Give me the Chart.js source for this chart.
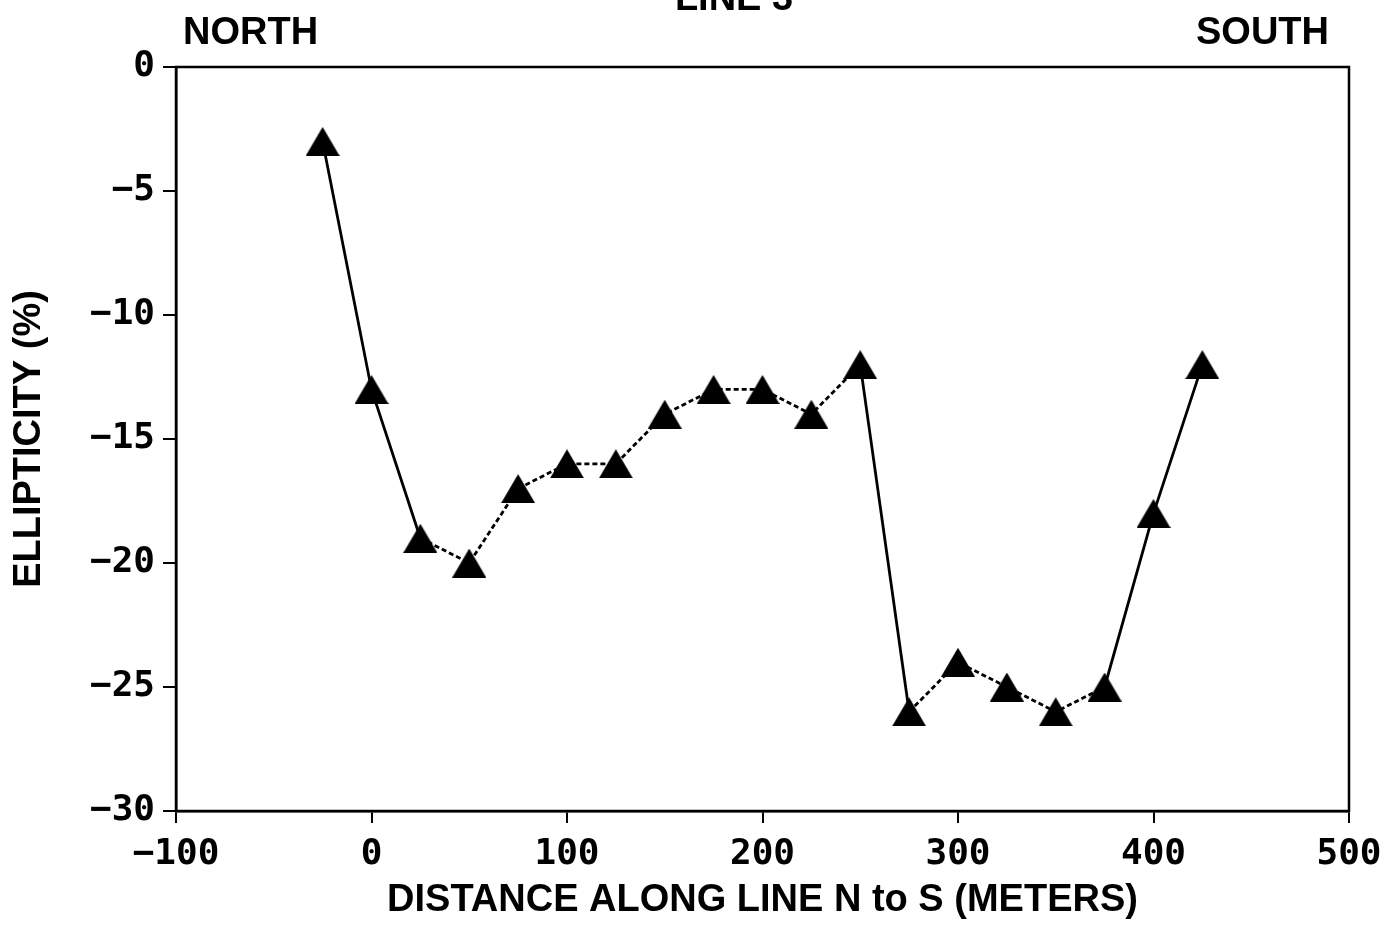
<!DOCTYPE html>
<html>
<head>
<meta charset="utf-8">
<title>Line 3 - Ellipticity</title>
<script src="https://cdn.jsdelivr.net/npm/chart.js@4/dist/chart.umd.min.js"></script>
<style>
  body { margin: 0; background: #fff; }
  #wrap { width: 1393px; height: 928px; position: relative; }
</style>
</head>
<body>
<div id="wrap"><canvas id="ellipticity-chart"></canvas></div>
<script>
// Data
const distances = [-25, 0, 25, 50, 75, 100, 125, 150, 175, 200, 225, 250, 275, 300, 325, 350, 375, 400, 425];
const ellipticity = [-3, -13, -19, -20, -17, -16, -16, -14, -13, -13, -14, -12, -26, -24, -25, -26, -25, -18, -12];

// Axis ranges
const xTicks = [-100, 0, 100, 200, 300, 400, 500];
const yTicks = [-30, -25, -20, -15, -10, -5, 0];

// Labels
const chartTitle = 'LINE 3';
const leftLabel = 'NORTH';
const rightLabel = 'SOUTH';
const xTitle = 'DISTANCE ALONG LINE N to S (METERS)';
const yTitle = 'ELLIPTICITY (%)';

document.addEventListener('DOMContentLoaded', () => {
  const labelFont = 'bold 38px "Liberation Sans", Arial, sans-serif';
  const tickFont = { family: '"DejaVu Sans Mono", monospace', size: 36, weight: 'bold' };

  // minus sign like the original typeset
  const fmt = v => String(v).replace('-', '\u2212');

  // Filled triangle marker, centred on its bounding box like the original
  const marker = document.createElement('canvas');
  marker.width = 34;
  marker.height = 29;
  const mctx = marker.getContext('2d');
  mctx.fillStyle = '#000';
  mctx.beginPath();
  mctx.moveTo(17, 0);
  mctx.lineTo(34, 29);
  mctx.lineTo(0, 29);
  mctx.closePath();
  mctx.fill();

  // Draw the frame and the header texts
  const framePlugin = {
    id: 'frame',
    afterDraw(chart) {
      const { ctx, chartArea } = chart;
      ctx.save();
      ctx.strokeStyle = '#000';
      ctx.lineWidth = 2.5;
      ctx.strokeRect(chartArea.left, chartArea.top, chartArea.right - chartArea.left, chartArea.bottom - chartArea.top);

      ctx.fillStyle = '#000';
      ctx.font = labelFont;
      ctx.textBaseline = 'alphabetic';
      ctx.textAlign = 'left';
      ctx.fillText(leftLabel, chartArea.left + 7, chartArea.top - 23);
      ctx.textAlign = 'right';
      ctx.fillText(rightLabel, chartArea.right - 20, chartArea.top - 23);
      // title is mostly cut off at the top edge
      ctx.textAlign = 'center';
      ctx.fillText(chartTitle, 734, 10);
      ctx.restore();
    }
  };

  // big jumps are drawn solid, small steps dotted
  const segDash = ctx => Math.abs(ctx.p1.parsed.y - ctx.p0.parsed.y) >= 5 ? [] : [5, 3];

  new Chart(document.getElementById('ellipticity-chart').getContext('2d'), {
    type: 'line',
    data: {
      datasets: [{
        label: 'Ellipticity',
        data: distances.map((d, i) => ({ x: d, y: ellipticity[i] })),
        borderColor: '#000',
        backgroundColor: '#000',
        borderWidth: 2.8,
        pointStyle: marker,
        pointRadius: 17,
        pointBorderWidth: 0,
        tension: 0,
        fill: false,
        segment: { borderDash: segDash }
      }]
    },
    options: {
      responsive: true,
      maintainAspectRatio: false,
      animation: false,
      layout: { padding: { top: 67, right: 44, left: 0, bottom: 0 } },
      plugins: {
        legend: { display: false },
        tooltip: { enabled: false },
        title: { display: false }
      },
      scales: {
        x: {
          type: 'linear',
          min: xTicks[0],
          max: xTicks[xTicks.length - 1],
          afterBuildTicks: axis => { axis.ticks = xTicks.map(v => ({ value: v })); },
          afterFit: axis => { axis.height = 117; },
          border: { display: true, color: '#000', width: 2.5 },
          grid: { drawOnChartArea: false, drawTicks: true, tickLength: 12, color: '#000', lineWidth: 2 },
          ticks: { color: '#000', font: tickFont, padding: 10, maxRotation: 0, callback: fmt },
          title: {
            display: true,
            text: xTitle,
            color: '#000',
            font: { family: '"Liberation Sans", Arial, sans-serif', size: 38, weight: 'bold' },
            padding: { top: 0, bottom: 5 }
          }
        },
        y: {
          type: 'linear',
          min: yTicks[0],
          max: yTicks[yTicks.length - 1],
          afterBuildTicks: axis => { axis.ticks = yTicks.map(v => ({ value: v })); },
          afterFit: axis => { axis.width = 176; },
          border: { display: true, color: '#000', width: 2.5 },
          grid: { drawOnChartArea: false, drawTicks: true, tickLength: 13, color: '#000', lineWidth: 2 },
          ticks: { color: '#000', font: tickFont, padding: 8, callback: fmt },
          title: {
            display: true,
            text: yTitle,
            color: '#000',
            font: { family: '"Liberation Sans", Arial, sans-serif', size: 38, weight: 'bold' },
            padding: { top: 7, bottom: 0 }
          }
        }
      }
    },
    plugins: [framePlugin]
  });
});
</script>
</body>
</html>
